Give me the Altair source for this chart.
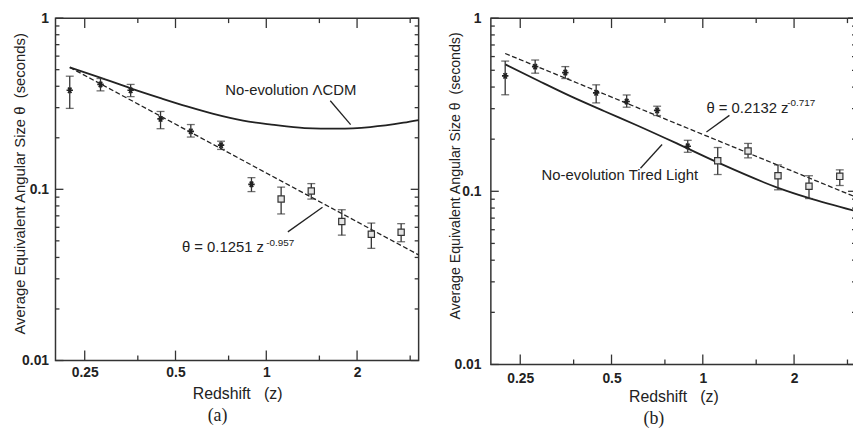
import altair as alt
import pandas as pd

# ---------------- data ----------------
X_TICKS_MAJOR = [0.25, 0.5, 1, 2]
X_TICKS_MINOR = [0.375, 0.75, 1.5, 3]
Y_TICKS_MAJOR = [0.01, 0.1, 1]
Y_TICKS_MINOR = [0.02, 0.03, 0.04, 0.05, 0.06, 0.07, 0.08, 0.09,
                 0.2, 0.3, 0.4, 0.5, 0.6, 0.7, 0.8, 0.9]
X_DOMAIN = [0.2, 3.2]
Y_DOMAIN = [0.01, 1]

# panel (a)
A_STAR_Z = [0.223, 0.282, 0.355, 0.446, 0.562, 0.708, 0.893]
A_STAR_T = [0.379, 0.410, 0.379, 0.258, 0.218, 0.181, 0.107]
A_STAR_LO = [0.297, 0.376, 0.348, 0.226, 0.202, 0.171, 0.097]
A_STAR_HI = [0.458, 0.444, 0.410, 0.285, 0.239, 0.191, 0.117]
A_SQ_Z = [1.12, 1.41, 1.78, 2.23, 2.80]
A_SQ_T = [0.0877, 0.0978, 0.0649, 0.0546, 0.0561]
A_SQ_LO = [0.0718, 0.0877, 0.054, 0.0452, 0.0494]
A_SQ_HI = [0.103, 0.108, 0.076, 0.0635, 0.063]
A_FIT_Z = [0.223, 3.2]
A_FIT_T = [0.516, 0.0414]
A_MODEL_Z = [0.223, 0.283, 0.355, 0.446, 0.546, 0.668, 0.838, 1.04, 1.34, 1.72, 2.21, 2.85, 3.2]
A_MODEL_T = [0.516, 0.448, 0.389, 0.341, 0.305, 0.276, 0.252, 0.239, 0.228, 0.226, 0.231, 0.245, 0.254]
A_TEXT = ["No-evolution \u039bCDM", "\u03b8 = 0.1251 z"]
A_TEXT_Z = [0.731, 0.525]
A_TEXT_T = [0.380, 0.0458]
A_SUP = ["-0.957"]
A_SUP_Z = [1.0]
A_SUP_T = [0.0486]
A_LEAD_Z = [1.63, 1.179]
A_LEAD_T = [0.329, 0.0564]
A_LEAD_Z2 = [1.904, 1.536]
A_LEAD_T2 = [0.2387, 0.0785]

# panel (b)
B_STAR_Z = [0.223, 0.280, 0.352, 0.445, 0.561, 0.707, 0.892]
B_STAR_T = [0.464, 0.525, 0.485, 0.370, 0.330, 0.293, 0.182]
B_STAR_LO = [0.361, 0.481, 0.448, 0.324, 0.306, 0.274, 0.168]
B_STAR_HI = [0.565, 0.573, 0.525, 0.412, 0.360, 0.310, 0.197]
B_SQ_Z = [1.12, 1.41, 1.77, 2.24, 2.83]
B_SQ_T = [0.150, 0.171, 0.123, 0.107, 0.122]
B_SQ_LO = [0.125, 0.156, 0.102, 0.0908, 0.108]
B_SQ_HI = [0.179, 0.189, 0.142, 0.123, 0.133]
B_FIT_Z = [0.223, 3.2]
B_FIT_T = [0.625, 0.0925]
B_MODEL_Z = [0.223, 0.287, 0.369, 0.474, 0.608, 0.821, 1.108, 1.78, 2.23, 3.2]
B_MODEL_T = [0.541, 0.435, 0.352, 0.290, 0.240, 0.189, 0.148, 0.1044, 0.0916, 0.0768]
B_TEXT = ["No-evolution Tired Light", "\u03b8 = 0.2132 z"]
B_TEXT_Z = [0.294, 1.028]
B_TEXT_T = [0.1234, 0.302]
B_SUP = ["-0.717"]
B_SUP_Z = [1.90]
B_SUP_T = [0.325]
B_LEAD_Z = [0.734, 1.224]
B_LEAD_T = [0.1863, 0.2744]
B_LEAD_Z2 = [0.623, 1.028]
B_LEAD_T2 = [0.1358, 0.2203]

X_TITLE = "Redshift\u00a0\u00a0\u00a0(z)"
Y_TITLE = "Average Equivalent Angular Size \u03b8\u00a0\u00a0(seconds)"

FONT = "Liberation Sans"
INK = "#222222"
ASTERISK = "M-1,0L1,0M-0.5,-0.87L0.5,0.87M-0.5,0.87L0.5,-0.87"


def panel(letter, W, H, sz, st, slo, shi, qz, qt, qlo, qhi, fz, ft, mz, mt,
          tx, tz, tt, sup, supz, supt, lz, lt, lz2, lt2,
          xpad, ypad, xtitle_y, ytitle_x, ytitle_shift, ytitle_size):
    xs = alt.Scale(type="log", domain=X_DOMAIN, nice=False)
    ys = alt.Scale(type="log", domain=Y_DOMAIN, nice=False)
    x_axis = alt.Axis(values=X_TICKS_MAJOR, format="~g", labelPadding=xpad,
                      titleBaseline="alphabetic", titleY=xtitle_y, titleFontSize=16)
    y_axis = alt.Axis(values=Y_TICKS_MAJOR, format="~g", labelPadding=ypad,
                      titleX=ytitle_x, titleY=H / 2 - ytitle_shift, titleBaseline="bottom",
                      titleFontSize=ytitle_size)

    def X(f="z"):
        return alt.X(f"{f}:Q", scale=xs, axis=x_axis, title=X_TITLE)

    def Y(f="t"):
        return alt.Y(f"{f}:Q", scale=ys, axis=y_axis, title=Y_TITLE)

    fit = alt.Chart(pd.DataFrame({"z": fz, "t": ft})).mark_line(
        color=INK, strokeWidth=1.3, strokeDash=[5, 2.5]
    ).encode(x=X(), y=Y())
    model = alt.Chart(pd.DataFrame({"z": mz, "t": mt})).mark_line(
        color=INK, strokeWidth=1.8, interpolate="monotone"
    ).encode(x=X(), y=Y())

    def errbars(z, lo, hi):
        d = pd.DataFrame({"z": z, "lo": lo, "hi": hi})
        bars = alt.Chart(d).mark_rule(color="#333", strokeWidth=1.3).encode(
            x=X(), y=Y("lo"), y2="hi:Q")
        cap_hi = alt.Chart(d).mark_tick(color="#333", orient="horizontal", size=8, thickness=1.3).encode(
            x=X(), y=Y("hi"))
        cap_lo = alt.Chart(d).mark_tick(color="#333", orient="horizontal", size=8, thickness=1.3).encode(
            x=X(), y=Y("lo"))
        return [bars, cap_hi, cap_lo]

    stars = alt.Chart(pd.DataFrame({"z": sz, "t": st})).mark_point(
        shape=ASTERISK, size=42, filled=False, stroke=INK, strokeWidth=1.7, opacity=1
    ).encode(x=X(), y=Y())
    squares = alt.Chart(pd.DataFrame({"z": qz, "t": qt})).mark_point(
        shape="square", size=40, filled=True, fill="#e4e4e4", stroke="#333",
        strokeWidth=1.2, opacity=1
    ).encode(x=X(), y=Y())

    texts = alt.Chart(pd.DataFrame({"z": tz, "t": tt, "s": tx})).mark_text(
        align="left", baseline="middle", font=FONT, fontSize=15, color=INK
    ).encode(x=X(), y=Y(), text="s:N")
    sups = alt.Chart(pd.DataFrame({"z": supz, "t": supt, "s": sup})).mark_text(
        align="left", baseline="middle", font=FONT, fontSize=10, color=INK
    ).encode(x=X(), y=Y(), text="s:N")
    leaders = alt.Chart(pd.DataFrame({"z": lz, "t": lt, "z2": lz2, "t2": lt2})).mark_rule(
        color=INK, strokeWidth=1.3
    ).encode(x=X(), y=Y(), x2="z2:Q", y2="t2:Q")

    def xt(vals, length):
        d = pd.DataFrame({"z": vals})
        b = alt.Chart(d).mark_rule(color="#333", strokeWidth=1.3).encode(
            x=X(), y=alt.value(H), y2=alt.value(H - length))
        t = alt.Chart(d).mark_rule(color="#333", strokeWidth=1.3).encode(
            x=X(), y=alt.value(0), y2=alt.value(length))
        return [b, t]

    def yt(vals, length):
        d = pd.DataFrame({"t": vals})
        l = alt.Chart(d).mark_rule(color="#333", strokeWidth=1.3).encode(
            y=Y(), x=alt.value(0), x2=alt.value(length))
        r = alt.Chart(d).mark_rule(color="#333", strokeWidth=1.3).encode(
            y=Y(), x=alt.value(W), x2=alt.value(W - length))
        return [l, r]

    layers = ([fit, model] + xt(X_TICKS_MAJOR, 10) + xt(X_TICKS_MINOR, 5)
              + yt(Y_TICKS_MAJOR, 8) + yt(Y_TICKS_MINOR, 4)
              + errbars(sz, slo, shi) + errbars(qz, qlo, qhi)
              + [stars, squares, leaders, texts, sups])
    return alt.layer(*layers).properties(
        width=W, height=H,
        title=alt.TitleParams(letter, orient="bottom", anchor="middle", frame="bounds",
                              font="Liberation Serif", fontSize=18, fontWeight="normal",
                              color=INK, offset=6),
    )


left = panel("(a)", 367, 346, A_STAR_Z, A_STAR_T, A_STAR_LO, A_STAR_HI,
             A_SQ_Z, A_SQ_T, A_SQ_LO, A_SQ_HI, A_FIT_Z, A_FIT_T, A_MODEL_Z, A_MODEL_T,
             A_TEXT, A_TEXT_Z, A_TEXT_T, A_SUP, A_SUP_Z, A_SUP_T,
             A_LEAD_Z, A_LEAD_T, A_LEAD_Z2, A_LEAD_T2, 5, 7, 38, -28, 6, 15)
right = panel("(b)", 369, 350, B_STAR_Z, B_STAR_T, B_STAR_LO, B_STAR_HI,
              B_SQ_Z, B_SQ_T, B_SQ_LO, B_SQ_HI, B_FIT_Z, B_FIT_T, B_MODEL_Z, B_MODEL_T,
              B_TEXT, B_TEXT_Z, B_TEXT_T, B_SUP, B_SUP_Z, B_SUP_T,
              B_LEAD_Z, B_LEAD_T, B_LEAD_Z2, B_LEAD_T2, 7, 10, 37, -29, 16, 14.3)

chart = alt.hconcat(left, right, spacing=24).properties(
    padding={"left": 4, "top": 0, "right": -8, "bottom": 0}
).configure_view(
    stroke="#333", strokeWidth=1.5
).configure_axis(
    domain=False, ticks=False, grid=False,
    labelFont=FONT, labelFontSize=14, labelFontWeight="bold", labelColor=INK,
    titleFont=FONT, titleFontWeight="normal", titleColor=INK,
)

chart.save("out.html", embed_options={"renderer": "svg", "actions": False})
